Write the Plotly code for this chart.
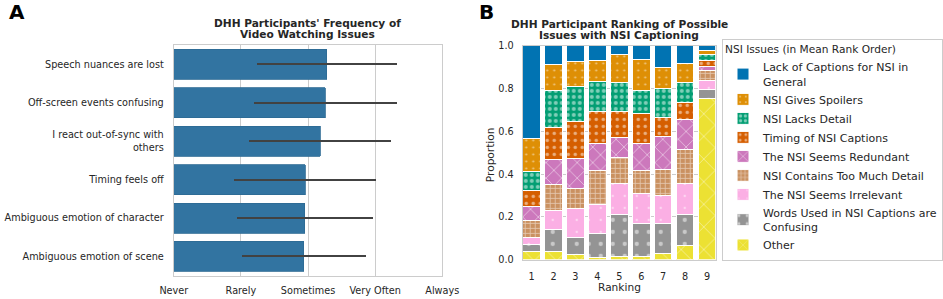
import plotly.graph_objects as go

# ---------------- Panel A data ----------------
issues_a = [
    "Speech nuances are lost",
    "Off-screen events confusing",
    "I react out-of-sync with<br>others",
    "Timing feels off",
    "Ambiguous emotion of character",
    "Ambiguous emotion of scene",
]
freq_mean = [2.28, 2.26, 2.18, 1.96, 1.95, 1.935]
freq_sd = [1.04, 1.07, 1.06, 1.06, 1.015, 0.925]
freq_ticks = ["Never", "Rarely", "Sometimes", "Very Often", "Always"]

# ---------------- Panel B data ----------------
ranks = [1, 2, 3, 4, 5, 6, 7, 8, 9]
# stacked bottom -> top
other = [0.036, 0.040, 0.025, 0.012, 0.015, 0.016, 0.028, 0.067, 0.755]
words_confusing = [0.037, 0.100, 0.080, 0.111, 0.198, 0.154, 0.142, 0.145, 0.040]
seems_irrelevant = [0.031, 0.090, 0.135, 0.135, 0.144, 0.140, 0.130, 0.145, 0.042]
too_much_detail = [0.078, 0.120, 0.095, 0.157, 0.121, 0.105, 0.120, 0.158, 0.048]
seems_redundant = [0.065, 0.120, 0.140, 0.130, 0.095, 0.128, 0.158, 0.141, 0.020]
timing = [0.075, 0.150, 0.170, 0.150, 0.120, 0.141, 0.087, 0.079, 0.028]
lacks_detail = [0.089, 0.170, 0.163, 0.137, 0.136, 0.106, 0.135, 0.093, 0.027]
gives_spoilers = [0.156, 0.125, 0.117, 0.098, 0.129, 0.148, 0.097, 0.092, 0.017]
lack_of_captions = [0.433, 0.085, 0.075, 0.070, 0.042, 0.062, 0.103, 0.080, 0.023]

nsi_series = [
    ("Other", other),
    ("Words Used in NSI Captions are<br>Confusing", words_confusing),
    ("The NSI Seems Irrelevant", seems_irrelevant),
    ("NSI Contains Too Much Detail", too_much_detail),
    ("The NSI Seems Redundant", seems_redundant),
    ("Timing of NSI Captions", timing),
    ("NSI Lacks Detail", lacks_detail),
    ("NSI Gives Spoilers", gives_spoilers),
    ("Lack of Captions for NSI in<br>General", lack_of_captions),
]
nsi_colors = ["#ece133", "#949494", "#fbafe4", "#ca9161", "#cc78bc",
              "#d55e00", "#029e73", "#de8f05", "#0173b2"]
nsi_patterns = [("x", 16, 0.10), (".", 12, 0.10), (".", 12, 0.03), ("+", 5, 0.30),
                ("x", 11, 0.16), (".", 7, 0.20), (".", 6, 0.35), (".", 7, 0.08),
                ("", 8, 0.2)]

FONT = "DejaVu Sans"
TXT = "#262626"
GRID = "#cccccc"
W, H = 943, 299

fig = go.Figure()

fig.add_trace(go.Bar(
    x=freq_mean, y=issues_a, orientation="h", width=0.78,
    marker=dict(color="rgb(50,116,161)", line=dict(color="#2d6a94", width=0.8)),
    error_x=dict(type="data", array=freq_sd, color="#424242", thickness=2, width=0),
    xaxis="x", yaxis="y", showlegend=False,
))

for (name, vals), col, (shp, sz, sol) in zip(nsi_series, nsi_colors, nsi_patterns):
    fig.add_trace(go.Bar(
        x=ranks, y=vals, name=name, width=0.8,
        marker=dict(color=col, line=dict(color="white", width=1),
                    pattern=dict(shape=shp, size=sz, solidity=sol,
                                 fgcolor="white", bgcolor=col, fillmode="overlay")),
        xaxis="x2", yaxis="y2",
    ))

def px(x):
    return x / W

def py(y):
    return 1 - y / H

axis_common = dict(showline=True, mirror=True, linecolor=GRID, linewidth=1.25,
                   zeroline=False, ticks="", automargin=False,
                   tickfont=dict(family=FONT, size=9.7, color=TXT))

fig.update_layout(
    width=W, height=H, margin=dict(l=0, r=0, t=0, b=0),
    paper_bgcolor="white", plot_bgcolor="white",
    barmode="stack",
    font=dict(family=FONT, color=TXT),
    xaxis=dict(domain=[px(174), px(442.7)], range=[0, 4], tickvals=[0, 1, 2, 3, 4],
               ticktext=freq_ticks, showgrid=True, gridcolor=GRID, gridwidth=1,
               ticklabelstandoff=6, anchor="y", **axis_common),
    yaxis=dict(domain=[py(275.7), py(45)], type="category", categoryarray=issues_a,
               range=[5.5, -0.5], showgrid=False, ticklabelstandoff=7,
               anchor="x", **axis_common),
    xaxis2=dict(domain=[px(523.3), px(716.6)], range=[0.6, 9.4],
                tickvals=ranks, showgrid=False, ticklabelstandoff=8,
                anchor="y2", **axis_common),
    yaxis2=dict(domain=[py(259.6), py(45.9)], range=[0, 1],
                tickvals=[0, 0.2, 0.4, 0.6, 0.8, 1.0], tickformat=".1f",
                showgrid=True, gridcolor=GRID, gridwidth=1, ticklabelstandoff=6,
                anchor="x2", **axis_common),
    legend=dict(x=px(723), xanchor="left", y=0.5, yanchor="middle",
                bgcolor="white", bordercolor=GRID, borderwidth=1,
                traceorder="reversed",
                font=dict(family=FONT, size=11, color=TXT),
                title=dict(text="NSI Issues (in Mean Rank Order)",
                           font=dict(family=FONT, size=10.6, color=TXT))),
)

annots = [
    dict(text="<b>A</b>", x=px(17), y=py(12), size=20),
    dict(text="<b>B</b>", x=px(487), y=py(12), size=20),
    dict(text="<b>DHH Participants' Frequency of</b>", x=px(308), y=py(22.7), size=10.6),
    dict(text="<b>Video Watching Issues</b>", x=px(308), y=py(34), size=10.6),
    dict(text="<b>DHH Participant Ranking of Possible</b>", x=px(620), y=py(24), size=10.6),
    dict(text="<b>Issues with NSI Captioning</b>", x=px(620), y=py(34.6), size=10.6),
    dict(text="Ranking", x=px(620), y=py(287.3), size=10.6),
]
for a in annots:
    fig.add_annotation(text=a["text"], x=a["x"], y=a["y"], xref="paper", yref="paper",
                       xanchor="center", yanchor="middle", showarrow=False,
                       font=dict(family=FONT, size=a["size"], color=TXT if a["size"] < 15 else "black"))
fig.add_annotation(text="Proportion", x=px(490), y=py(154.7), xref="paper", yref="paper",
                   xanchor="center", yanchor="middle", showarrow=False, textangle=-90,
                   font=dict(family=FONT, size=10.6, color=TXT))

fig.write_html("out.html", config={"displayModeBar": False},
               post_script="document.body.style.margin='0';")
